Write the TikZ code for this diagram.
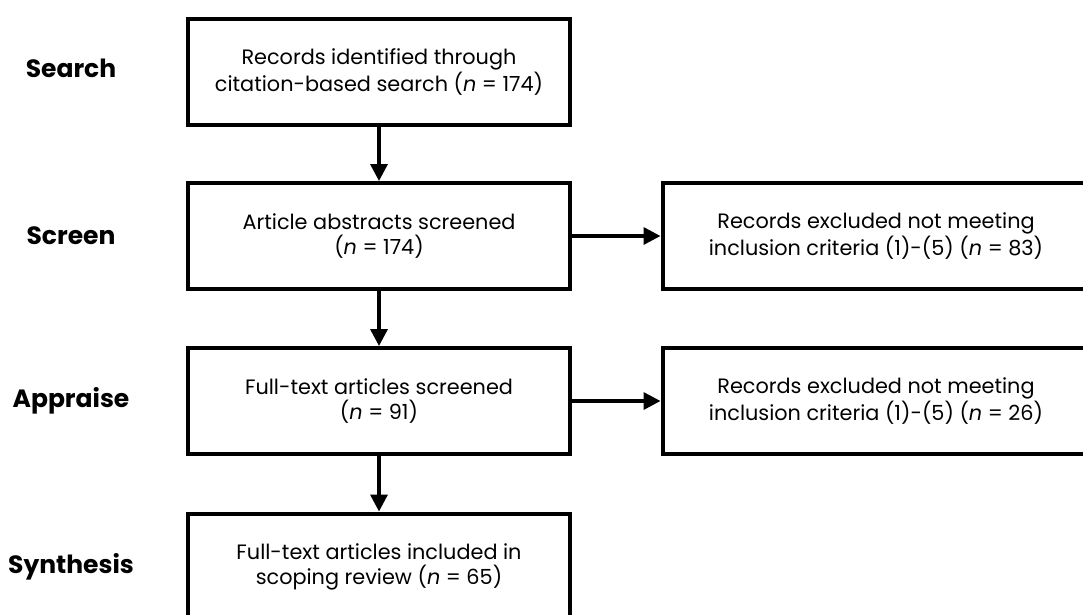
\documentclass[tikz,border=0pt]{standalone}
\usepackage{fontspec}
\setmainfont{Poppins}
\usetikzlibrary{arrows.meta}
\tikzset{
  box/.style={draw=black, line width=4pt, fill=none, minimum width=382pt, minimum height=106pt, inner sep=0pt, align=center, font=\fontsize{20.8}{25}\selectfont},
  sidebox/.style={box, minimum width=427pt},
  stagelabel/.style={font=\fontsize{25}{30}\selectfont\bfseries, anchor=center, inner sep=0pt},
  arr/.style={line width=3.5pt, -{Triangle[length=17pt,width=17pt]}}
}
\begin{document}
\begin{tikzpicture}[x=1pt,y=-1pt]
\useasboundingbox (0,0) rectangle (1083,614);
\node[box] (b1) at (379,72) {Records identified through\\citation-based search (\textit{n} = 174)};
\node[box] (b2) at (379,236) {Article abstracts screened\\(\textit{n} = 174)};
\node[box] (b3) at (379,401) {Full-text articles screened\\(\textit{n} = 91)};
\node[box] (b4) at (379,566.5) {Full-text articles included in\\scoping review (\textit{n} = 65)};
\node[sidebox] (r2) at (876,236) {Records excluded not meeting\\inclusion criteria (1)-(5) (\textit{n} = 83)};
\node[sidebox] (r3) at (876,401) {Records excluded not meeting\\inclusion criteria (1)-(5) (\textit{n} = 26)};
\node[stagelabel] (l1) at (71,68) {Search};
\node[stagelabel] (l2) at (71,236) {Screen};
\node[stagelabel] (l3) at (71,401) {Appraise};
\node[stagelabel] (l4) at (71,566.5) {Synthesis};
\draw[arr] (b1.south) -- (b2.north);
\draw[arr] (b2.south) -- (b3.north);
\draw[arr] (b3.south) -- (b4.north);
\draw[arr] (b2.east) -- (r2.west);
\draw[arr] (b3.east) -- (r3.west);
\end{tikzpicture}
\end{document}
